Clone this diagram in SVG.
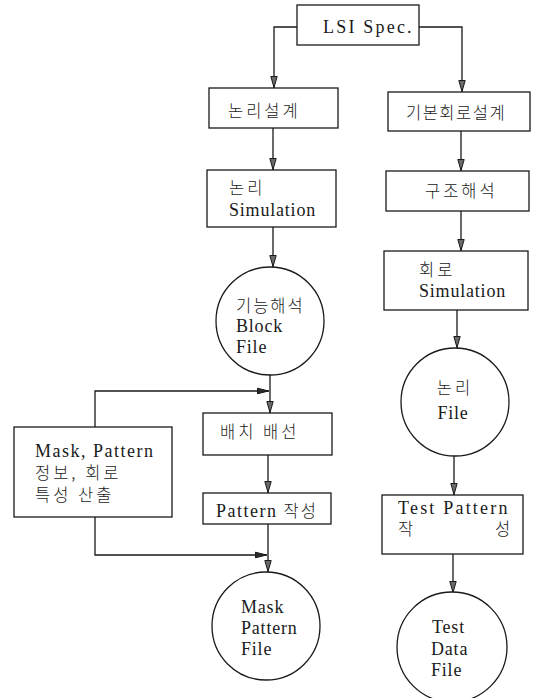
<svg xmlns="http://www.w3.org/2000/svg" width="536" height="698" viewBox="0 0 536 698">
  <defs>
    <!-- open-bodied arrowhead for the vertical flow lines -->
    <marker id="arrow-down" viewBox="0 0 12 8" markerWidth="12" markerHeight="8" refX="12" refY="4" orient="auto" markerUnits="userSpaceOnUse">
      <path d="M0.5,0.8 L11.5,4 L0.5,7.2 Z" fill="#6a6a6a" stroke="#1a1a1a" stroke-width="1"/>
    </marker>
    <!-- solid arrowhead for the side feed lines -->
    <marker id="arrow-right" viewBox="0 0 12 8" markerWidth="12" markerHeight="8" refX="12" refY="4" orient="auto" markerUnits="userSpaceOnUse">
      <path d="M0.5,1.2 L11.5,4 L0.5,6.8 Z" fill="#2a2a2a" stroke="#1a1a1a" stroke-width="1"/>
    </marker>
    <style>
      .box { fill: #ffffff; stroke: #1a1a1a; stroke-width: 1.3; }
      .file { fill: #ffffff; stroke: #1a1a1a; stroke-width: 1.3; }
      .line { fill: none; stroke: #1a1a1a; stroke-width: 1.3; }
      .down { marker-end: url(#arrow-down); }
      .right { marker-end: url(#arrow-right); }
      text { fill: #1a1a1a; font-size: 18px; }
      .en { font-family: "Liberation Serif", "DejaVu Serif", serif; letter-spacing: 0.8px; }
      .ko { font-family: "Noto Sans CJK KR", "Noto Sans", sans-serif; font-size: 16.5px; font-weight: 300; letter-spacing: 3px; }
      .ko.tight { letter-spacing: 1.5px; }
      .ko.mid { letter-spacing: 2px; }
      .wide { letter-spacing: 2.2px; }
      .semi { letter-spacing: 1.5px; }
    </style>
  </defs>

  <rect width="536" height="698" fill="#ffffff"/>

  <!-- connectors -->
  <g id="connectors">
    <path class="line down" d="M297,27 H274 V88"/>
    <path class="line down" d="M419,27 H462 V92"/>
    <path class="line down" d="M273,128 V170"/>
    <path class="line down" d="M461,131 V171"/>
    <path class="line down" d="M273,227 V267"/>
    <path class="line down" d="M461,211 V251"/>
    <path class="line down" d="M270,375 V413"/>
    <path class="line down" d="M457,310 V348"/>
    <path class="line right" d="M95,427 V391 H269"/>
    <path class="line down" d="M268,455 V493"/>
    <path class="line down" d="M454,456 V495"/>
    <path class="line right" d="M95,517 V555 H267"/>
    <path class="line down" d="M268,524 V572"/>
    <path class="line down" d="M453,554 V593"/>
  </g>

  <!-- nodes -->
  <g id="lsi-spec">
    <rect class="box" x="297" y="5" width="122" height="40"/>
    <text class="en wide" x="323" y="33">LSI Spec.</text>
  </g>

  <g id="logic-design">
    <rect class="box" x="209" y="88" width="129" height="40"/>
    <text class="ko" x="228" y="117">논리설계</text>
  </g>

  <g id="basic-circuit-design">
    <rect class="box" x="388" y="92" width="142" height="39"/>
    <text class="ko tight" x="406" y="119">기본회로설계</text>
  </g>

  <g id="logic-simulation">
    <rect class="box" x="207" y="170" width="129" height="57"/>
    <text class="ko" x="229" y="194">논리</text>
    <text class="en" x="229" y="216">Simulation</text>
  </g>

  <g id="structure-analysis">
    <rect class="box" x="386" y="171" width="143" height="40"/>
    <text class="ko" x="425" y="197">구조해석</text>
  </g>

  <g id="circuit-simulation">
    <rect class="box" x="384" y="251" width="144" height="59"/>
    <text class="ko" x="419" y="276">회로</text>
    <text class="en" x="419" y="297">Simulation</text>
  </g>

  <g id="function-block-file">
    <circle class="file" cx="270" cy="321" r="54"/>
    <text class="ko mid" x="236" y="312">기능해석</text>
    <text class="en" x="236" y="332">Block</text>
    <text class="en" x="236" y="353">File</text>
  </g>

  <g id="logic-file">
    <circle class="file" cx="455" cy="402" r="54"/>
    <text class="ko" x="455" y="394" text-anchor="middle">논리</text>
    <text class="en" x="453" y="419" text-anchor="middle">File</text>
  </g>

  <g id="placement-routing">
    <rect class="box" x="203" y="413" width="129" height="42"/>
    <text class="ko" x="220" y="438">배치 배선</text>
  </g>

  <g id="mask-pattern-info">
    <rect class="box" x="14" y="427" width="158" height="90"/>
    <text class="en semi" x="35" y="457">Mask, Pattern</text>
    <text class="ko" x="35" y="479">정보, 회로</text>
    <text class="ko" x="35" y="501">특성 산출</text>
  </g>

  <g id="pattern-creation">
    <rect class="box" x="203" y="493" width="128" height="31"/>
    <text class="en semi" x="216" y="517">Pattern <tspan class="ko mid">작성</tspan></text>
  </g>

  <g id="test-pattern-creation">
    <rect class="box" x="382" y="495" width="141" height="59"/>
    <text class="en wide" x="398" y="514">Test Pattern</text>
    <text class="ko" x="398" y="535">작</text>
    <text class="ko" x="495" y="535">성</text>
  </g>

  <g id="mask-pattern-file">
    <circle class="file" cx="266" cy="626" r="54"/>
    <text class="en" x="241" y="613">Mask</text>
    <text class="en" x="241" y="634">Pattern</text>
    <text class="en" x="241" y="655">File</text>
  </g>

  <g id="test-data-file">
    <circle class="file" cx="452" cy="647" r="55"/>
    <text class="en" x="432" y="633">Test</text>
    <text class="en" x="431" y="655">Data</text>
    <text class="en" x="431" y="676">File</text>
  </g>
</svg>
